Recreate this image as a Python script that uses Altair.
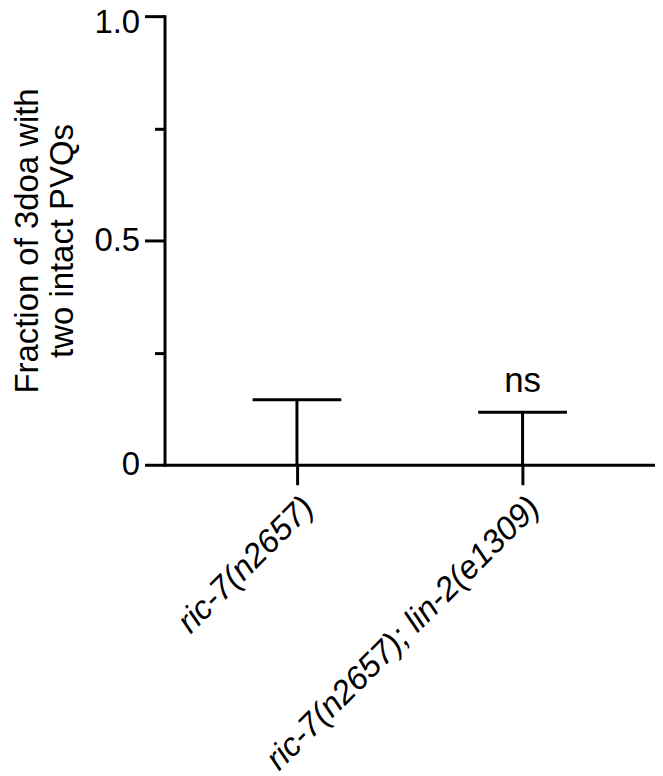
import altair as alt
import pandas as pd

categories = ["ric-7(n2657)", "ric-7(n2657); lin-2(e1309)"]
means = [0.0, 0.0]
uppers = [0.145, 0.117]
annotations = ["", "ns"]

df = pd.DataFrame({"cat": categories, "mean": means, "upper": uppers, "note": annotations})

FONT = "Liberation Sans"
FS = 33

x = alt.X("cat:N", sort=categories, title=None,
          scale=alt.Scale(type="point", padding=0.587),
          axis=alt.Axis(labelAngle=-45, labelFontStyle="italic", labelFontSize=FS,
                        labelFont=FONT, labelColor="black", domainColor="black",
                        domainWidth=3, tickColor="black", tickWidth=3, tickSize=20,
                        labelPadding=6, labelLimit=600))

y_axis = alt.Axis(values=[0, 0.25, 0.5, 0.75, 1.0],
                  labelExpr="datum.value == 0 ? '0' : (datum.value == 0.5 ? '0.5' : (datum.value == 1 ? '1.0' : ''))",
                  tickSize={"condition": {"test": "datum.value == 0.25 || datum.value == 0.75", "value": 10}, "value": 20},
                  labelOffset={"condition": {"test": "datum.value == 1", "value": 6}, "value": 0},
                  tickWidth=3, tickColor="black", domainColor="black", domainWidth=3,
                  labelFontSize=FS, labelFont=FONT, labelColor="black", labelPadding=5,
                  grid=False,
                  title=["Fraction of 3doa with", "two intact PVQs"],
                  titleFontSize=33, titleFont=FONT, titleFontWeight="normal",
                  titleColor="black", titleLineHeight=36, titlePadding=14)

y = alt.Y("mean:Q", scale=alt.Scale(domain=[0, 1], nice=False), axis=y_axis)

base = alt.Chart(df)

stem = base.mark_rule(color="black", strokeWidth=3).encode(
    x=x, y=y, y2="upper:Q")
cap = base.mark_tick(color="black", orient="horizontal", size=89, thickness=3, opacity=1).encode(
    x=x, y="upper:Q")
note = base.mark_text(font=FONT, fontSize=35, color="black", baseline="bottom", dy=-13).encode(
    x=x, y="upper:Q", text="note:N")

chart = alt.layer(stem, cap, note).properties(
    width=492, height=450,
    autosize=alt.AutoSizeParams(type="none"),
    padding={"left": 157, "top": 7, "right": 0, "bottom": 308},
).configure_view(stroke=None).configure_axis(domainCap="square")

chart.save("out.html", embed_options={"renderer": "svg", "actions": False})
